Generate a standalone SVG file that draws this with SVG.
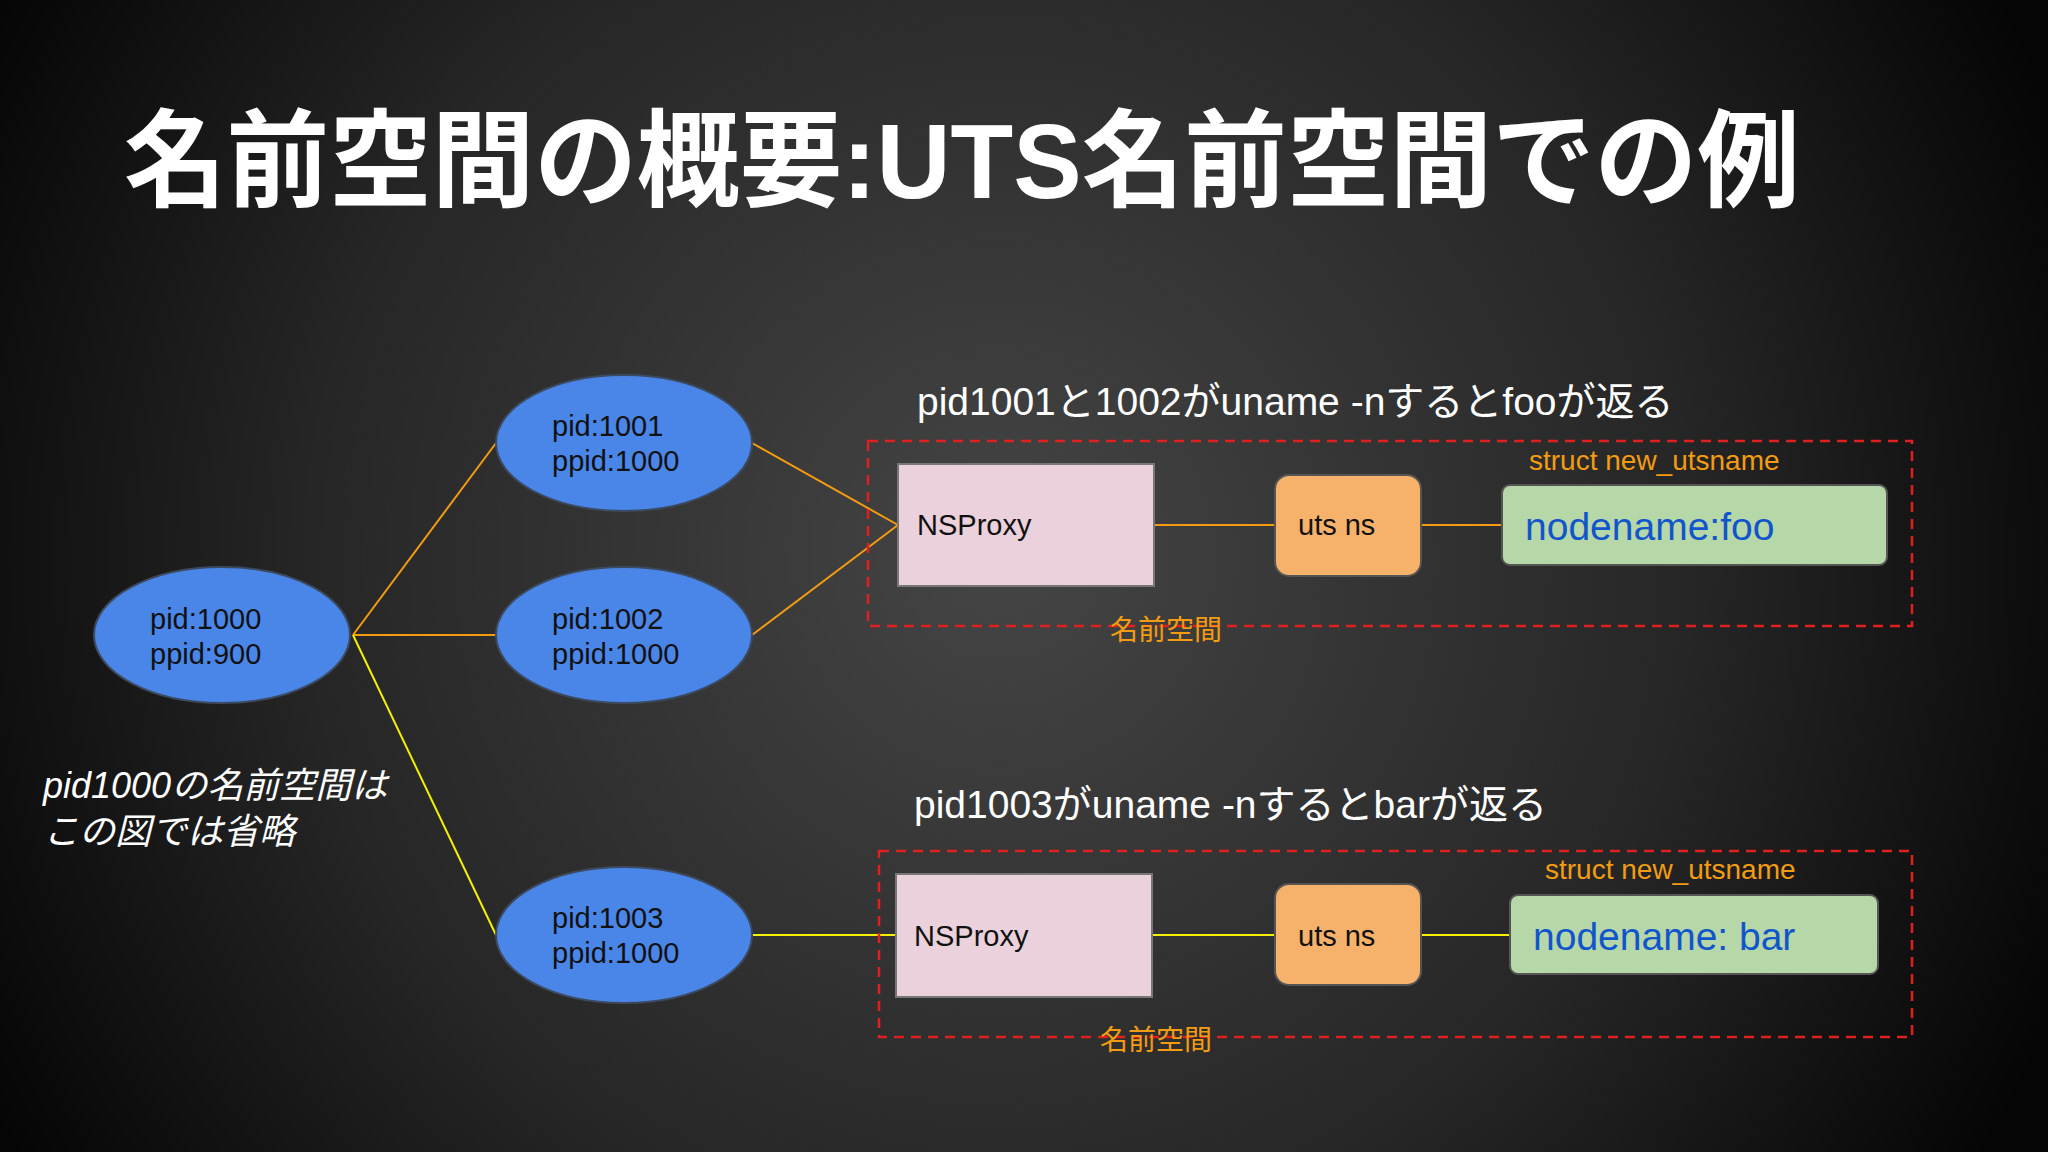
<svg xmlns="http://www.w3.org/2000/svg" width="2048" height="1152" viewBox="0 0 2048 1152">
<defs>
<radialGradient id="bg" cx="1000" cy="560" r="1150" gradientUnits="userSpaceOnUse">
<stop offset="0" stop-color="#454545"/><stop offset="0.6" stop-color="#262626"/><stop offset="1" stop-color="#050505"/>
</radialGradient>
<style>
.t{font-family:"Liberation Sans","Noto Sans CJK JP",sans-serif}
.ell{fill:#4a86e8;stroke:#3c4a60;stroke-width:2}
.et{font-size:29px;fill:#111}
.nsp{fill:#ead1dc;stroke:#777;stroke-width:2}
.uts{fill:#f6b26b;stroke:#555;stroke-width:2}
.grn{fill:#b6d7a8;stroke:#555;stroke-width:2}
.dash{fill:none;stroke:#e02020;stroke-width:2.5;stroke-dasharray:10 7}
.or{stroke:#f39c12;stroke-width:2;fill:none}
.ye{stroke:#f5f000;stroke-width:2;fill:none}
.lab{fill:#f39c12;font-size:28px}
.hd{fill:#fff;font-size:39px}
</style>
</defs>
<rect width="2048" height="1152" fill="url(#bg)"/>
<text class="t" x="124" y="198" font-size="106" font-weight="bold" fill="#fff" textLength="1676" lengthAdjust="spacingAndGlyphs">名前空間の概要:UTS名前空間での例</text>
<g id="connectors">
<line class="or" x1="353" y1="635" x2="496" y2="443"/>
<line class="or" x1="353" y1="635" x2="496" y2="635"/>
<line class="ye" x1="353" y1="635" x2="496" y2="935"/>
<line class="or" x1="752" y1="443" x2="898" y2="525"/>
<line class="or" x1="752" y1="635" x2="898" y2="525"/>
<line class="or" x1="1154" y1="525" x2="1275" y2="525"/>
<line class="or" x1="1421" y1="525" x2="1502" y2="525"/>
<line class="ye" x1="752" y1="935" x2="896" y2="935"/>
<line class="ye" x1="1152" y1="935" x2="1275" y2="935"/>
<line class="ye" x1="1421" y1="935" x2="1510" y2="935"/>
</g>
<g id="pid1000"><ellipse class="ell" cx="222" cy="635" rx="128" ry="68"/><text class="t et" x="150" y="629">pid:1000</text><text class="t et" x="150" y="664">ppid:900</text></g>
<g id="pid1001"><ellipse class="ell" cx="624" cy="443" rx="128" ry="68"/><text class="t et" x="552" y="436">pid:1001</text><text class="t et" x="552" y="471">ppid:1000</text></g>
<g id="pid1002"><ellipse class="ell" cx="624" cy="635" rx="128" ry="68"/><text class="t et" x="552" y="629">pid:1002</text><text class="t et" x="552" y="664">ppid:1000</text></g>
<g id="pid1003"><ellipse class="ell" cx="624" cy="935" rx="128" ry="68"/><text class="t et" x="552" y="928">pid:1003</text><text class="t et" x="552" y="963">ppid:1000</text></g>
<text class="t" x="43" y="798" font-size="36" font-style="italic" fill="#fff">pid1000の名前空間は</text>
<text class="t" x="43" y="844" font-size="36" font-style="italic" fill="#fff">この図では省略</text>
<text class="t hd" x="917" y="415">pid1001と1002がuname -nするとfooが返る</text>
<g id="ns1">
<rect class="dash" x="868" y="441" width="1044" height="185"/>
<text class="t lab" x="1110" y="640">名前空間</text>
</g>
<g id="nsproxy1"><rect class="nsp" x="898" y="464" width="256" height="122"/><text class="t et" x="917" y="535">NSProxy</text></g>
<g id="uts1"><rect class="uts" x="1275" y="475" width="146" height="101" rx="14"/><text class="t et" x="1298" y="535">uts ns</text></g>
<g id="name1"><text class="t lab" x="1529" y="470" font-size="27">struct new_utsname</text><rect class="grn" x="1502" y="485" width="385" height="80" rx="8"/><text class="t" x="1525" y="540" font-size="39" fill="#1155cc">nodename:foo</text></g>
<text class="t hd" x="914" y="818">pid1003がuname -nするとbarが返る</text>
<g id="ns2">
<rect class="dash" x="879" y="851" width="1033" height="186"/>
<text class="t lab" x="1100" y="1050">名前空間</text>
</g>
<g id="nsproxy2"><rect class="nsp" x="896" y="874" width="256" height="123"/><text class="t et" x="914" y="946">NSProxy</text></g>
<g id="uts2"><rect class="uts" x="1275" y="884" width="146" height="101" rx="14"/><text class="t et" x="1298" y="946">uts ns</text></g>
<g id="name2"><text class="t lab" x="1545" y="879" font-size="27">struct new_utsname</text><rect class="grn" x="1510" y="895" width="368" height="79" rx="8"/><text class="t" x="1533" y="950" font-size="39" fill="#1155cc">nodename: bar</text></g>
</svg>
